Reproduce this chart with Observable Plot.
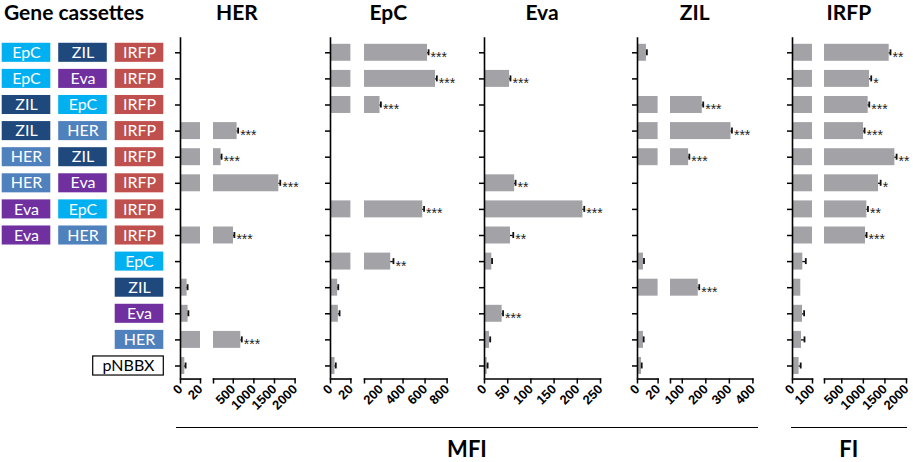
<!DOCTYPE html>
<html><head><meta charset="utf-8">
<script src="https://cdn.jsdelivr.net/npm/d3@7"></script>
<script src="https://cdn.jsdelivr.net/npm/@observablehq/plot@0.6"></script>
<style>
body{margin:0;background:#fff;}
#chart{position:relative;width:913px;height:462px;overflow:hidden;font-family:Lato,sans-serif;}
.t{position:absolute;font-weight:bold;color:#000;white-space:nowrap;line-height:22px;text-align:center;}
.hl{position:absolute;height:0;border-top:1.6px solid #000;}
</style></head><body><div id="chart"></div>
<script>
// ---------- data ----------
const rowIds = [0,1,2,3,4,5,6,7,8,9,10,11,12];
const col1 = ["EpC","EpC","ZIL","ZIL","HER","HER","Eva","Eva",null,null,null,null,null];
const col2 = ["ZIL","Eva","EpC","HER","ZIL","Eva","EpC","HER",null,null,null,null,null];
const col3 = ["IRFP","IRFP","IRFP","IRFP","IRFP","IRFP","IRFP","IRFP","EpC","ZIL","Eva","HER","pNBBX"];
const genes = ["EpC","ZIL","HER","Eva","IRFP","pNBBX"];
const geneColors = ["#00B0F0","#1F497D","#4F81BD","#7030A0","#C0504D","#FFFFFF"];

const HER_MFI = [null,null,null,593,204,1605,null,505,null,6.6,7.6,682,4.3];
const HER_SD  = [null,null,null,25,12,35,null,22,null,0.5,0.3,25,0.8];
const HER_SIG = ["","","","***","***","***","","***","","","","***",""];
const HER_DOMAINS = [[0,20],[20,2000]];
const HER_TICKS = [[0,20],[500,1000,1500,2000]];

const EpC_MFI = [622,695,191,null,null,null,579,null,288,7.0,7.7,null,4.4];
const EpC_SD  = [10,12,8,null,null,null,12,null,25,0.6,1.2,null,0.8];
const EpC_SIG = ["***","***","***","","","","***","","**","","","",""];
const EpC_DOMAINS = [[0,20],[50,800]];
const EpC_TICKS = [[0,20],[200,400,600,800]];

const Eva_MFI = [null,54,null,null,null,65,212,56,15.8,null,38,10.8,5.7];
const Eva_SD  = [null,2,null,null,null,2,3,6,0.5,null,2,1.5,1.0];
const Eva_SIG = ["","***","","","","**","***","**","","","***","",""];
const Eva_DOMAINS = [[0,250]];
const Eva_TICKS = [[0,50,100,150,200,250]];

const ZIL_MFI = [8.7,null,185,307,127,null,null,null,5.8,168,null,5.8,3.9];
const ZIL_SD  = [0.4,null,4,4,3,null,null,null,0.5,4,null,0.2,0.2];
const ZIL_SIG = ["","","***","***","***","","","","","***","","",""];
const ZIL_DOMAINS = [[0,20],[50,400]];
const ZIL_TICKS = [[0,20],[100,200,300,400]];

const IRFP_FI  = [1599,1143,1112,1004,1731,1351,1082,1050,51.5,41.5,50,45,33];
const IRFP_SD  = [30,40,25,25,40,50,25,25,15,0,8,15,8];
const IRFP_SIG = ["**","*","***","***","**","*","**","***","","","","",""];
const IRFP_DOMAINS = [[0,100],[100,2000]];
const IRFP_TICKS = [[0,100],[500,1000,1500,2000]];

// ---------- layout ----------
const TOP = 39.25, BOTTOM = 378.55, H = 462;
const panels = [
  {name:"HER",  vals:HER_MFI, sds:HER_SD, sigs:HER_SIG, domains:HER_DOMAINS, ticks:HER_TICKS, layout:[[179.7,20],[212.7,81.6]]},
  {name:"EpC",  vals:EpC_MFI, sds:EpC_SD, sigs:EpC_SIG, domains:EpC_DOMAINS, ticks:EpC_TICKS, layout:[[330.3,20.4],[363.7,82.6]]},
  {name:"Eva",  vals:Eva_MFI, sds:Eva_SD, sigs:Eva_SIG, domains:Eva_DOMAINS, ticks:Eva_TICKS, layout:[[484,116]]},
  {name:"ZIL",  vals:ZIL_MFI, sds:ZIL_SD, sigs:ZIL_SIG, domains:ZIL_DOMAINS, ticks:ZIL_TICKS, layout:[[636.7,20.6],[670.3,82.4]]},
  {name:"IRFP", vals:IRFP_FI, sds:IRFP_SD, sigs:IRFP_SIG, domains:IRFP_DOMAINS, ticks:IRFP_TICKS, layout:[[791.5,20],[824.3,82]]}
];

const chart = document.getElementById("chart");
function place(svg, left){
  svg.style.position = "absolute";
  svg.style.left = left + "px";
  svg.style.top = "0px";
  svg.style.overflow = "visible";
  svg.style.background = "transparent";
  svg.style.maxWidth = "none";
  chart.appendChild(svg);
}

function segPlot(p, si){
  const [d0, d1] = p.domains[si];
  const [left, w] = p.layout[si];
  const ML = 40, MR = 40;
  const n = p.domains.length;
  const isLast = si === n - 1;
  const rows = rowIds.map(i => ({row:i, v:p.vals[i], sd:p.sds[i] ?? 0, sig:p.sigs[i]})).filter(d => d.v != null);
  const bars = rows.filter(d => d.v > d0).map(d => ({row:d.row, x1:d0, x2:isLast ? d.v : Math.min(d.v, d1)}));
  const ends = rows.filter(d => {
    let k = p.domains.findIndex(([a,b]) => d.v <= b);
    if (k < 0) k = n - 1;
    return k === si;
  }).map(d => ({...d, hi:d.v + d.sd}));
  const tickVals = si === 0 ? p.ticks[si] : [d0, ...p.ticks[si]];
  const marks = [
    Plot.barX(bars, {y:"row", x1:"x1", x2:"x2", fill:"#a3a3a7"}),
    Plot.ruleY(ends.filter(d => d.sd > 0), {y:"row", x1:"v", x2:"hi", stroke:"#111", strokeWidth:1.3}),
    Plot.tickX(ends.filter(d => d.sd > 0), {x:"hi", y:"row", stroke:"#111", strokeWidth:1.8, insetTop:5.5, insetBottom:5.5}),
    Plot.text(ends.filter(d => d.sig), {x:"hi", y:"row", text:"sig", textAnchor:"start", dx:2, dy:4.5, fontSize:14, fill:"#222", fontFamily:"Liberation Sans", letterSpacing:"0.6px"}),
    Plot.frame({anchor:"bottom", strokeWidth:1.6, stroke:"#000"}),
    Plot.axisX({ticks:tickVals, tickFormat:d => (si > 0 && d === d0) ? "" : String(d), tickRotate:-45, tickSize:5, tickPadding:3, strokeWidth:1.5, fontSize:13, fontWeight:"bold", label:null, fill:"#000", stroke:"#000"})
  ];
  if (si === 0) {
    marks.push(Plot.ruleX([d0], {strokeWidth:1.6, stroke:"#000", insetTop:-2}));
    marks.push(Plot.axisY({tickSize:5, strokeWidth:1.5, tickFormat:() => "", label:null, stroke:"#000"}));
  }
  const svg = Plot.plot({
    width: ML + w + MR, height: H,
    marginLeft: ML, marginRight: MR, marginTop: TOP, marginBottom: H - BOTTOM,
    x: {domain:[d0, d1]},
    y: {type:"band", domain:rowIds, paddingInner:0.35, paddingOuter:0.175, round:false, ...(si === 0 ? {} : {axis:null})},
    style: {fontFamily:"Liberation Sans", color:"#000"},
    marks
  });
  place(svg, left - ML);
}

// gene cassette labels
const boxes = [];
rowIds.forEach(i => {
  [col1, col2, col3].forEach((c, j) => { if (c[i]) boxes.push({row:i, col:"c" + (j + 1), gene:c[i]}); });
});
const colored = boxes.filter(d => d.gene !== "pNBBX");
const plain = boxes.filter(d => d.gene === "pNBBX");
const labelSvg = Plot.plot({
  width:170, height:H, marginLeft:1.7, marginRight:170 - 163.3, marginTop:TOP, marginBottom:H - BOTTOM,
  x: {type:"band", domain:["c1","c2","c3"], paddingInner:0.14, paddingOuter:0, axis:null, round:false},
  y: {type:"band", domain:rowIds, paddingInner:0.27, paddingOuter:0.135, axis:null, round:false},
  color: {domain:genes, range:geneColors},
  style: {fontFamily:"Lato"},
  marks: [
    Plot.cell(colored, {x:"col", y:"row", fill:"gene"}),
    Plot.cell(plain, {x:"col", y:"row", fill:"white", stroke:"black", strokeWidth:1.2, insetLeft:-22}),
    Plot.text(colored, {x:"col", y:"row", text:"gene", fill:"white", fontSize:16, fontFamily:"Lato"}),
    Plot.text(plain, {x:"col", y:"row", text:"gene", fill:"black", fontSize:16, fontFamily:"Lato", dx:-11})
  ]
});
place(labelSvg, 0);

panels.forEach(p => p.domains.forEach((_, si) => segPlot(p, si)));

// titles and group lines
function addText(txt, cx, top, size, width){
  const d = document.createElement("div");
  d.className = "t";
  d.textContent = txt;
  d.style.fontSize = size + "px";
  d.style.top = top + "px";
  d.style.width = width + "px";
  d.style.left = (cx - width / 2) + "px";
  chart.appendChild(d);
}
function addLine(x, w, y){
  const d = document.createElement("div");
  d.className = "hl";
  d.style.left = x + "px"; d.style.width = w + "px"; d.style.top = y + "px";
  chart.appendChild(d);
}
const gt = document.createElement("div");
gt.className = "t"; gt.textContent = "Gene cassettes";
gt.style.fontSize = "21px"; gt.style.left = "4px"; gt.style.top = "1px"; gt.style.textAlign = "left";
chart.appendChild(gt);
panels.forEach(p => {
  const first = p.layout[0], last = p.layout[p.layout.length - 1];
  const cx = (first[0] + last[0] + last[1]) / 2;
  addText(p.name, cx, 1, 21, 120);
});
addLine(175.7, 582.6, 427);
addLine(790.7, 116, 427);
addText("MFI", 467, 438, 22, 120);
addText("FI", 848.7, 438, 22, 80);
</script></body></html>
